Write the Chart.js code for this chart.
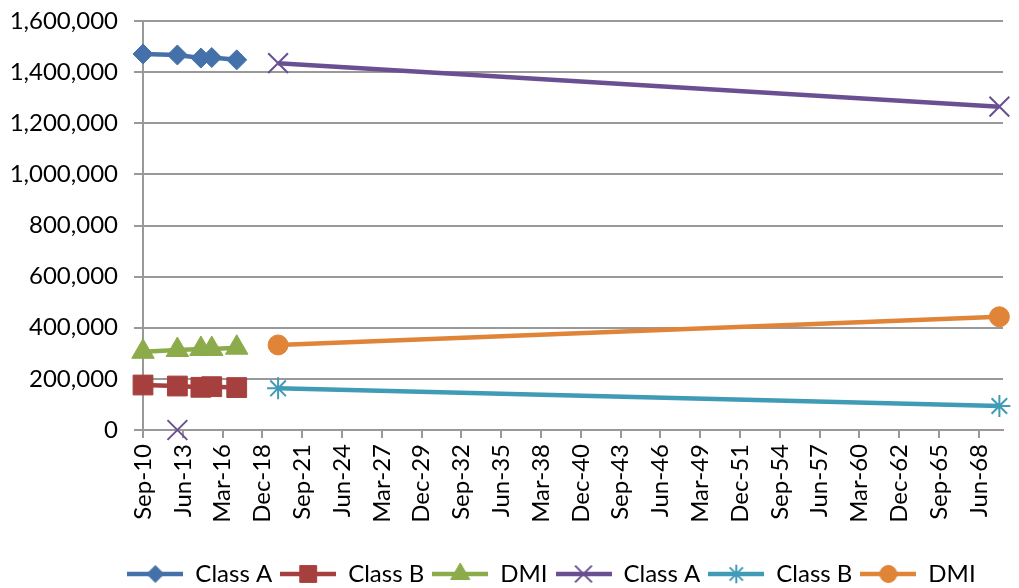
<!DOCTYPE html>
<html>
<head>
<meta charset="utf-8">
<script src="https://cdn.jsdelivr.net/npm/chart.js@4/dist/chart.umd.min.js"></script>
<style>
html,body{margin:0;padding:0;background:#fff;}
#wrap{width:1019px;height:588px;position:relative;}
</style>
</head>
<body>
<div id="wrap"><canvas id="c" width="1019" height="588"></canvas></div>
<script>
// Dates as months elapsed since Sep-2010
const dates = [0, 28.5, 48, 57, 77.7, 112, 710];
// Series values (null = no value on that date)
const classA_hist = [1471000, 1467000, 1455000, 1457000, 1448000, null, null];
const classB_hist = [176000, 172000, 167000, 169500, 166000, null, null];
const dmi_hist    = [306000, 313000, 317000, 317000, 322000, null, null];
const classA_proj = [null, 0, null, null, null, 1435000, 1265000];
const classB_proj = [null, null, null, null, null, 163000, 94000];
const dmi_proj    = [null, null, null, null, null, 332700, 443000];
// Axis tick labels
const xTickLabels = ['Sep-10','Jun-13','Mar-16','Dec-18','Sep-21','Jun-24','Mar-27','Dec-29','Sep-32','Jun-35','Mar-38','Dec-40','Sep-43','Jun-46','Mar-49','Dec-51','Sep-54','Jun-57','Mar-60','Dec-62','Sep-65','Jun-68'];
const xTickStep = 33; // months between labels
const xMax = 713;
const yMax = 1600000, yStep = 200000;

const FONT = {family: 'Lato', size: 24};

const seriesDefs = [
  {label:'Class A', values:classA_hist, color:'#4471A9', style:'rectRot', r:10, bw:1},
  {label:'Class B', values:classB_hist, color:'#A6403E', style:'rect', r:14, bw:1},
  {label:'DMI',     values:dmi_hist,    color:'#8CAB4B', style:'triangle', r:13, bw:1},
  {label:'Class A', values:classA_proj, color:'#6A5092', style:'crossRot', r:14, bw:2},
  {label:'Class B', values:classB_proj, color:'#3F9BB6', style:'star', r:11, bw:2},
  {label:'DMI',     values:dmi_proj,    color:'#E08437', style:'circle', r:10, bw:1}
];

function makeIcon(def){
  const cv = document.createElement('canvas');
  cv.width = 56; cv.height = 26;
  const ctx = cv.getContext('2d');
  ctx.strokeStyle = def.color;
  ctx.lineWidth = 4.5;
  ctx.beginPath(); ctx.moveTo(0, 13); ctx.lineTo(56, 13); ctx.stroke();
  ctx.fillStyle = def.color;
  ctx.strokeStyle = def.color;
  ctx.lineWidth = def.bw;
  if (Chart.helpers && Chart.helpers.drawPoint) {
    Chart.helpers.drawPoint(ctx, {pointStyle:def.style, radius:def.r*0.85, rotation:0, borderWidth:def.bw}, 28, 13);
  }
  return cv;
}
const icons = seriesDefs.map(makeIcon);

const datasets = seriesDefs.map(d => ({
  label: d.label,
  data: dates.map((x, i) => ({x: x, y: d.values[i]})),
  borderColor: d.color,
  backgroundColor: d.color,
  borderWidth: 4.5,
  pointStyle: d.style,
  pointRadius: d.r,
  pointHoverRadius: d.r,
  pointBorderWidth: d.bw,
  pointBorderColor: d.color,
  pointBackgroundColor: d.color,
  spanGaps: false,
  clip: false,
  tension: 0
}));

// shift the legend block to the right, as in the reference
const legendShift = {
  id: 'legendShift',
  afterLayout(chart) {
    if (chart.legend) { chart.legend.left += 44; chart.legend.right += 44; }
  }
};

new Chart(document.getElementById('c'), {
  type: 'line',
  data: {datasets},
  plugins: [legendShift],
  options: {
    responsive: false,
    animation: false,
    layout: {padding: {top: 21, right: 4, left: 0, bottom: -8}},
    scales: {
      x: {
        type: 'linear', min: 0, max: xMax,
        afterBuildTicks: s => { s.ticks = xTickLabels.map((l, i) => ({value: i * xTickStep})); },
        afterFit: s => { s.height = 124; s.paddingLeft = 0; s.paddingRight = 0; },
        ticks: {
          autoSkip: false, maxRotation: 90, minRotation: 90, padding: 6,
          color: '#000', font: FONT,
          callback: v => xTickLabels[Math.round(v / xTickStep)]
        },
        grid: {drawOnChartArea: false, drawTicks: true, tickLength: 8, color: '#999', lineWidth: 2},
        border: {color: '#999', width: 2}
      },
      y: {
        min: 0, max: yMax,
        afterFit: s => { s.width = 143; s.paddingTop = 0; s.paddingBottom = 0; },
        ticks: {
          stepSize: yStep, padding: 16, color: '#000', font: FONT,
          callback: v => Number(v).toLocaleString('en-US')
        },
        grid: {color: '#999', lineWidth: 2, tickLength: 9},
        border: {color: '#999', width: 2}
      }
    },
    plugins: {
      tooltip: {enabled: false},
      legend: {
        position: 'bottom',
        labels: {
          usePointStyle: true, pointStyleWidth: 56, boxHeight: 22, padding: 8,
          color: '#000', font: FONT,
          generateLabels: chart => chart.data.datasets.map((ds, i) => ({
            text: ds.label, pointStyle: icons[i], fillStyle: ds.borderColor,
            strokeStyle: ds.borderColor, lineWidth: 0, hidden: false, datasetIndex: i, fontColor: '#000'
          }))
        }
      }
    }
  }
});
</script>
</body>
</html>
